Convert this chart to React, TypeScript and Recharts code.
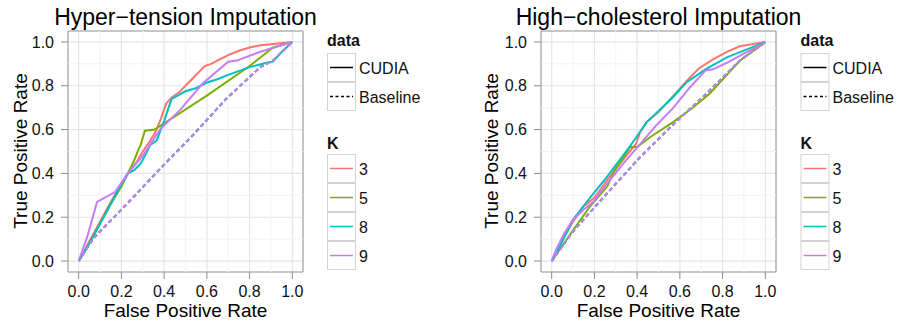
import React from "react";
import {
    LineChart, Line, XAxis, YAxis, CartesianGrid, ReferenceLine, ReferenceArea,
} from "recharts";

// [false positive rate, true positive rate]
const HT_K3: [number, number][] = [
    [0, 0], [0.05, 0.09], [0.1, 0.18], [0.15, 0.27], [0.2, 0.35], [0.23, 0.4],
    [0.27, 0.45], [0.3, 0.5], [0.335, 0.55], [0.36, 0.59], [0.385, 0.65], [0.41, 0.72],
    [0.44, 0.75], [0.47, 0.77], [0.5, 0.8], [0.53, 0.83], [0.56, 0.86], [0.59, 0.89],
    [0.62, 0.9], [0.66, 0.92], [0.7, 0.94], [0.75, 0.96], [0.8, 0.975], [0.85, 0.985],
    [0.9, 0.99], [1, 1],
];
const HT_K5: [number, number][] = [
    [0, 0], [0.05, 0.08], [0.1, 0.17], [0.15, 0.26], [0.2, 0.34], [0.23, 0.4],
    [0.26, 0.46], [0.28, 0.51], [0.29, 0.53], [0.31, 0.595], [0.355, 0.6],
    [0.6, 0.755], [0.8, 0.89], [0.91, 0.975], [1, 1],
];
const HT_K8: [number, number][] = [
    [0, 0], [0.05, 0.08], [0.1, 0.17], [0.15, 0.26], [0.2, 0.35], [0.23, 0.4],
    [0.26, 0.415], [0.29, 0.445], [0.31, 0.48], [0.335, 0.53], [0.365, 0.55],
    [0.4, 0.64], [0.435, 0.74], [0.5, 0.775], [0.55, 0.79], [0.6, 0.815], [0.65, 0.83],
    [0.7, 0.85], [0.8, 0.885], [0.88, 0.905], [0.91, 0.91], [0.94, 0.945], [1, 1],
];
const HT_K9: [number, number][] = [
    [0, 0], [0.04, 0.11], [0.086, 0.27], [0.17, 0.315], [0.23, 0.4], [0.3, 0.48],
    [0.38, 0.6], [0.475, 0.69], [0.58, 0.81], [0.7, 0.91], [0.74, 0.915],
    [0.85, 0.955], [1, 1],
];
const HT_BASE: [number, number][] = [
    [0, 0], [0.07, 0.105], [0.23, 0.265], [0.38, 0.42], [0.54, 0.58], [0.69, 0.74],
    [0.85, 0.885], [0.91, 0.915], [1, 1],
];

const HC_K3: [number, number][] = [
    [0, 0], [0.04, 0.08], [0.1, 0.18], [0.15, 0.25], [0.2, 0.29], [0.26, 0.37],
    [0.32, 0.445], [0.365, 0.5], [0.395, 0.535], [0.415, 0.59], [0.445, 0.635],
    [0.5, 0.68], [0.57, 0.755], [0.63, 0.82], [0.69, 0.88], [0.755, 0.92],
    [0.82, 0.955], [0.88, 0.98], [1, 1],
];
const HC_K5: [number, number][] = [
    [0, 0], [0.04, 0.055], [0.1, 0.14], [0.18, 0.25], [0.26, 0.34], [0.295, 0.415],
    [0.335, 0.47], [0.365, 0.52], [0.4, 0.52], [0.46, 0.565], [0.57, 0.635],
    [0.66, 0.7], [0.74, 0.765], [0.88, 0.914], [1, 1],
];
const HC_K8: [number, number][] = [
    [0, 0], [0.04, 0.07], [0.1, 0.19], [0.18, 0.29], [0.26, 0.385], [0.36, 0.515],
    [0.445, 0.634], [0.5, 0.685], [0.57, 0.75], [0.63, 0.815], [0.72, 0.875],
    [0.82, 0.93], [1, 1],
];
const HC_K9: [number, number][] = [
    [0, 0], [0.02, 0.05], [0.055, 0.12], [0.1, 0.19], [0.15, 0.235], [0.195, 0.27],
    [0.26, 0.355], [0.335, 0.445], [0.415, 0.535], [0.49, 0.62], [0.57, 0.7],
    [0.645, 0.79], [0.72, 0.87], [0.755, 0.875], [0.82, 0.905], [1, 1],
];
const HC_BASE: [number, number][] = [
    [0, 0], [0.1, 0.135], [0.26, 0.31], [0.415, 0.475], [0.57, 0.625],
    [0.725, 0.765], [0.88, 0.914], [1, 1],
];

const K_LABELS = ["3", "5", "8", "9"];
const DATA_LABELS = ["CUDIA", "Baseline"];
const MAJOR_TICKS = [0, 0.2, 0.4, 0.6, 0.8, 1];
const MINOR_TICKS = [0.1, 0.3, 0.5, 0.7, 0.9];

const K_COLORS = ["#F8766D", "#7CAE00", "#00BFC4", "#C77CFF"];
const FONT = '"Liberation Sans", Arial, Helvetica, sans-serif';
const TEXT = "#111";
const DASH = "4 3";

const toPts = (arr: [number, number][]) => arr.map(([x, y]) => ({ x, y }));

interface PanelProps {
    left: number;
    marginLeft: number;
    marginRight: number;
    curves: [number, number][][];
    baseline: [number, number][];
}

function Panel({ left, marginLeft, marginRight, curves, baseline }: PanelProps) {
    const tick = { fill: TEXT, fontSize: 16, fontFamily: FONT };
    return (
        <div style={{ position: "absolute", left, top: 0 }}>
            <LineChart
                width={310}
                height={325}
                margin={{ top: 31, right: marginRight, bottom: 23, left: marginLeft }}
            >
                <CartesianGrid stroke="#e5e5e5" strokeWidth={1.2} />
                {MINOR_TICKS.map((v) => (
                    <ReferenceLine key={"vx" + v} x={v} stroke="#f3f3f3" strokeWidth={1} />
                ))}
                {MINOR_TICKS.map((v) => (
                    <ReferenceLine key={"hy" + v} y={v} stroke="#f3f3f3" strokeWidth={1} />
                ))}
                <XAxis
                    type="number"
                    dataKey="x"
                    domain={[-0.05, 1.05]}
                    ticks={MAJOR_TICKS}
                    allowDataOverflow
                    tickFormatter={(v) => v.toFixed(1)}
                    axisLine={false}
                    tickLine={{ stroke: "#8c8c8c" }}
                    tickSize={7}
                    tickMargin={7}
                    height={30}
                    tick={tick}
                />
                <YAxis
                    type="number"
                    dataKey="y"
                    domain={[-0.05, 1.05]}
                    ticks={MAJOR_TICKS}
                    allowDataOverflow
                    tickFormatter={(v) => v.toFixed(1)}
                    axisLine={false}
                    tickLine={{ stroke: "#8c8c8c" }}
                    tickSize={7}
                    tickMargin={7}
                    width={60}
                    tick={tick}
                />
                {curves.map((c, i) => (
                    <Line
                        key={"c" + i}
                        data={toPts(c)}
                        dataKey="y"
                        name={"CUDIA K=" + K_LABELS[i]}
                        type="linear"
                        stroke={K_COLORS[i]}
                        strokeWidth={2}
                        dot={false}
                        isAnimationActive={false}
                    />
                ))}
                {K_COLORS.map((col, i) => (
                    <Line
                        key={"b" + i}
                        data={toPts(baseline)}
                        dataKey="y"
                        name={"Baseline K=" + K_LABELS[i]}
                        type="linear"
                        stroke={col}
                        strokeWidth={2}
                        strokeDasharray={DASH}
                        dot={false}
                        isAnimationActive={false}
                    />
                ))}
                <ReferenceArea
                    x1={-0.05}
                    x2={1.05}
                    y1={-0.05}
                    y2={1.05}
                    fill="none"
                    stroke="#9a9a9a"
                    strokeWidth={1}
                />
            </LineChart>
        </div>
    );
}

function LegendBlock({ x }: { x: number }) {
    const box = (y: number) => (
        <rect x={x + 0.5} y={y + 0.5} width={28} height={28} fill="#fff" stroke="#d3d3d3" />
    );
    const kTop = [154, 183, 212, 241];
    return (
        <g fontFamily={FONT} fontSize={16} fill={TEXT}>
            <text x={x} y={46} fontWeight="bold">data</text>
            {box(53)}
            <line x1={x + 3} x2={x + 26} y1={67.5} y2={67.5} stroke="#000" strokeWidth={1.5} />
            <text x={x + 32} y={73.5}>{DATA_LABELS[0]}</text>
            {box(82)}
            <line x1={x + 3} x2={x + 26} y1={96.5} y2={96.5} stroke="#000" strokeWidth={1.5} strokeDasharray="3 2.5" />
            <text x={x + 32} y={102.5}>{DATA_LABELS[1]}</text>

            <text x={x} y={149} fontWeight="bold">K</text>
            {kTop.map((t, i) => (
                <g key={i}>
                    {box(t)}
                    <line x1={x + 3} x2={x + 26} y1={t + 14.5} y2={t + 14.5} stroke={K_COLORS[i]} strokeWidth={1.5} />
                    <text x={x + 32} y={t + 20.5}>{K_LABELS[i]}</text>
                </g>
            ))}
        </g>
    );
}

export default function App() {
    return (
        <div
            style={{
                position: "absolute", left: 0, top: 0, width: 897, height: 325,
                background: "#fff", overflow: "hidden",
            }}
        >
            <Panel
                left={0}
                marginLeft={8}
                marginRight={7}
                curves={[HT_K3, HT_K5, HT_K8, HT_K9]}
                baseline={HT_BASE}
            />
            <Panel
                left={470}
                marginLeft={11}
                marginRight={4}
                curves={[HC_K3, HC_K5, HC_K8, HC_K9]}
                baseline={HC_BASE}
            />
            <svg
                width={897}
                height={325}
                style={{ position: "absolute", left: 0, top: 0, pointerEvents: "none" }}
            >
                <g fontFamily={FONT} fill="#000">
                    <text x={185.5} y={25} fontSize={23} textAnchor="middle">Hyper−tension Imputation</text>
                    <text x={658.5} y={25} fontSize={23} textAnchor="middle">High−cholesterol Imputation</text>
                    <text x={185.5} y={317} fontSize={19} textAnchor="middle">False Positive Rate</text>
                    <text x={658.5} y={317} fontSize={19} textAnchor="middle">False Positive Rate</text>
                    <text x={27} y={151} fontSize={19} textAnchor="middle" transform="rotate(-90 27 151)">True Positive Rate</text>
                    <text x={498} y={151} fontSize={19} textAnchor="middle" transform="rotate(-90 498 151)">True Positive Rate</text>
                </g>
                <LegendBlock x={327} />
                <LegendBlock x={800.5} />
            </svg>
        </div>
    );
}
